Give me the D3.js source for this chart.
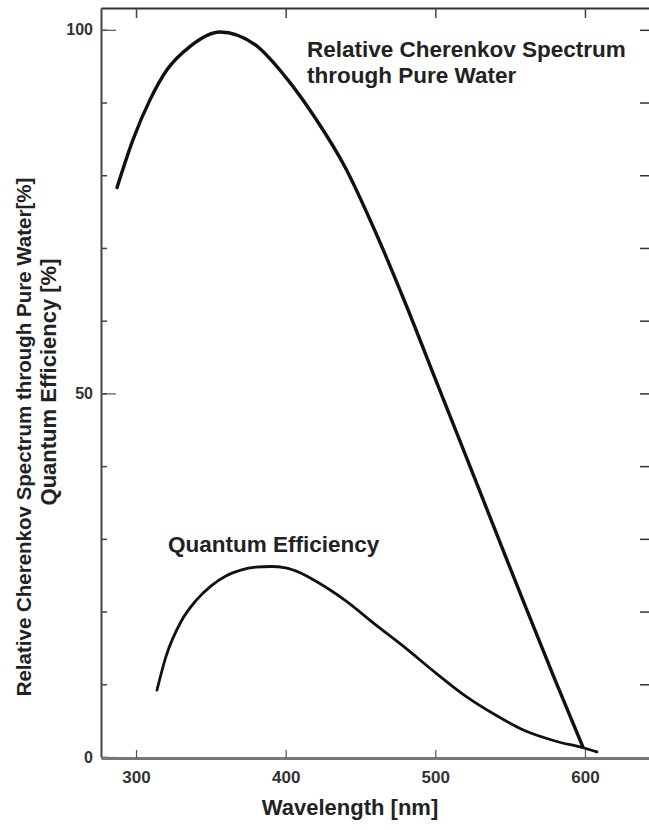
<!DOCTYPE html>
<html>
<head>
<meta charset="utf-8">
<script src="https://cdn.jsdelivr.net/npm/d3@7"></script>
<style>
  body { margin: 0; background: #fff; }
  svg { display: block; }
  text { font-family: "Liberation Sans", Arial, sans-serif; font-weight: bold; fill: #222; }
</style>
</head>
<body>
<svg id="chart"></svg>
<script>
// values
const cherenkovWl = [287.3, 298, 309.4, 320.7, 336, 356, 380, 400, 420, 440, 460, 480, 500, 520, 540, 560, 580, 598.6]
const cherenkovVal = [78.3, 84.9, 90.4, 94.5, 97.7, 99.7, 97.9, 93.5, 87.8, 81.0, 72.2, 62.4, 52.0, 41.6, 31.2, 20.8, 10.6, 1.4]

const qeWl = [314, 320, 330, 340, 350, 360, 370, 380, 390, 400, 410, 420, 440, 460, 480, 500, 520, 540, 560, 580, 600, 608]
const qeVal = [9.2, 13.8, 18.6, 21.5, 23.5, 24.9, 25.7, 26.1, 26.2, 26.0, 25.3, 24.2, 21.5, 18.2, 15.0, 11.6, 8.4, 5.8, 3.6, 2.2, 1.2, 0.7]

const xTicks = [300, 400, 500, 600]
const yTicks = [0, 10, 20, 30, 40, 50, 60, 70, 80, 90, 100]
const yLabelTicks = [0, 50, 100]
const rightTicks = [10, 20, 30, 40, 50, 60, 70, 80, 90, 100]

const margin = { top: 8, right: 0, bottom: 72, left: 101 }
const W = 649, H = 830
const width = W - margin.left - margin.right
const height = H - margin.top - margin.bottom

const svg = d3.select('#chart')
    .attr('width', W)
    .attr('height', H)
const g = svg.append('g')
    .attr('transform', `translate(${margin.left},${margin.top})`)

const xscl = d3.scaleLinear().domain([276.6, 642.8]).range([0, width])
const yscl = d3.scaleLinear().domain([0, 103]).range([height - 1, 0])

// top frame line + small ticks
g.append('g')
    .attr('class', 'top-axis')
    .call(d3.axisTop(xscl).tickValues(xTicks).tickSizeInner(-10).tickSizeOuter(0).tickFormat(''))
g.select('.top-axis .domain').attr('stroke', '#333').attr('stroke-width', 2)
g.selectAll('.top-axis .tick line').attr('stroke', '#444').attr('stroke-width', 1.5)

// right side ticks (no visible line)
g.append('g')
    .attr('class', 'right-axis')
    .attr('transform', `translate(${width},0)`)
    .call(d3.axisRight(yscl).tickValues(rightTicks).tickSizeInner(-9).tickSizeOuter(0).tickFormat(''))
g.select('.right-axis .domain').remove()
g.selectAll('.right-axis .tick line').attr('stroke', '#333').attr('stroke-width', 1.5)

// left minor ticks
g.append('g')
    .attr('class', 'left-minor')
    .call(d3.axisLeft(yscl).tickValues(yTicks).tickSizeInner(-6).tickSizeOuter(0).tickFormat(''))
g.select('.left-minor .domain').attr('stroke', '#444').attr('stroke-width', 2)
g.selectAll('.left-minor .tick line').attr('stroke', '#444').attr('stroke-width', 1.5)

// left labelled ticks
g.append('g')
    .attr('class', 'left-major')
    .call(d3.axisLeft(yscl).tickValues(yLabelTicks).tickSizeInner(-15).tickSizeOuter(0).tickPadding(8))
g.select('.left-major .domain').remove()
g.selectAll('.left-major .tick line').attr('stroke', '#555').attr('stroke-width', 1.2)
g.selectAll('.left-major .tick text')
    .style('font-size', '16px')
    .style('fill', '#333')

// bottom axis
g.append('g')
    .attr('class', 'bottom-axis')
    .attr('transform', `translate(0,${height})`)
    .call(d3.axisBottom(xscl).tickValues(xTicks).tickSizeInner(-8).tickSizeOuter(0).tickPadding(13))
g.select('.bottom-axis .domain').attr('stroke', '#777').attr('stroke-width', 3)
g.selectAll('.bottom-axis .tick line').attr('stroke', '#555').attr('stroke-width', 1.2)
g.selectAll('.bottom-axis .tick text')
    .style('font-size', '17px')
    .style('fill', '#333')

// curves
const line = d3.line()
    .x(d => xscl(d[0]))
    .y(d => yscl(d[1]))
    .curve(d3.curveMonotoneX)

g.append('path')
    .datum(d3.zip(cherenkovWl, cherenkovVal))
    .attr('class', 'line cherenkov')
    .attr('fill', 'none')
    .attr('stroke', '#111')
    .attr('stroke-width', 3.4)
    .attr('stroke-linecap', 'round')
    .attr('d', line)

g.append('path')
    .datum(d3.zip(qeWl, qeVal))
    .attr('class', 'line qe')
    .attr('fill', 'none')
    .attr('stroke', '#111')
    .attr('stroke-width', 2.8)
    .attr('stroke-linecap', 'round')
    .attr('d', line)

// curve annotations
svg.append('text')
    .attr('x', 307).attr('y', 57)
    .style('font-size', '22.5px')
    .text('Relative Cherenkov Spectrum')
svg.append('text')
    .attr('x', 307).attr('y', 83)
    .style('font-size', '22.5px')
    .text('through Pure Water')
svg.append('text')
    .attr('x', 168).attr('y', 552)
    .style('font-size', '22.5px')
    .text('Quantum Efficiency')

// axis titles
svg.append('text')
    .attr('x', margin.left + xscl(443))
    .attr('y', 815)
    .attr('text-anchor', 'middle')
    .style('font-size', '22px')
    .text('Wavelength [nm]')

svg.append('text')
    .attr('transform', 'translate(31,437) rotate(-90)')
    .attr('text-anchor', 'middle')
    .style('font-size', '20.5px')
    .text('Relative Cherenkov Spectrum through Pure Water[%]')
svg.append('text')
    .attr('transform', 'translate(56,382) rotate(-90)')
    .attr('text-anchor', 'middle')
    .style('font-size', '22px')
    .text('Quantum Efficiency [%]')
</script>
</body>
</html>
